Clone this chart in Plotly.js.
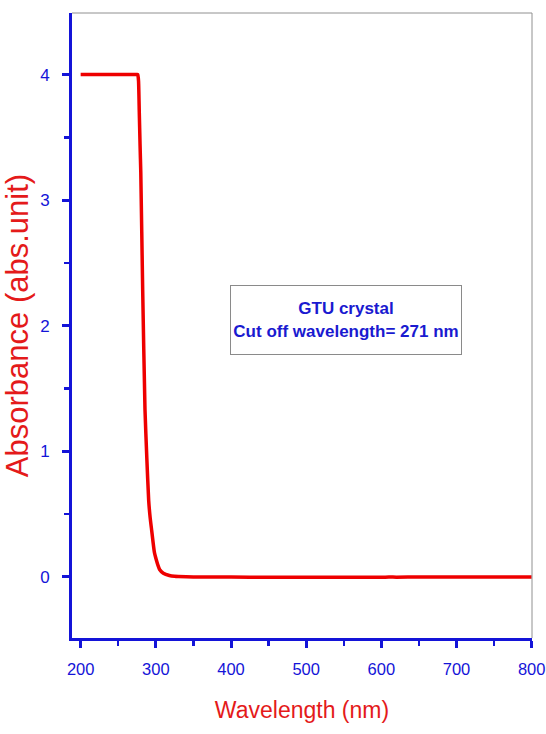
<!DOCTYPE html>
<html>
<head>
<meta charset="utf-8">
<script src="https://cdn.plot.ly/plotly-3.0.1.min.js"></script>
<style>html,body{margin:0;padding:0;background:#fff;}#chart{width:546px;height:734px;}</style>
</head>
<body>
<div id="chart"></div>
<script>
const wavelength = [200, 220, 240, 260, 270, 275, 276, 277, 278, 279, 280, 282.5, 285.6, 288, 290.5, 292.5, 294.5, 298, 300.7, 303, 305, 310, 318, 325, 330, 350, 400, 450, 500, 550, 600, 610, 620, 650, 700, 750, 800];
const absorbance = [4.0, 4.0, 4.0, 4.0, 4.0, 4.0, 4.0, 3.95, 3.7, 3.45, 3.22, 2.29, 1.33, 0.95, 0.61, 0.47, 0.37, 0.2, 0.135, 0.09, 0.06, 0.03, 0.012, 0.005, 0.003, 0.0, 0.0, -0.003, -0.003, -0.003, -0.003, 0.0, -0.002, 0.0, 0.0, 0.0, 0.0];
const xTickVals = [200, 300, 400, 500, 600, 700, 800];
const yTickVals = [0, 1, 2, 3, 4];
const noteLines = ["GTU crystal", "Cut off wavelength= 271 nm"];

const blue = "#1414d8";
const red = "#e41a1a";
const sans = "Liberation Sans, Arial, sans-serif";

const trace = {
  x: wavelength, y: absorbance, type: "scatter", mode: "lines",
  line: {color: "#ee0000", width: 3.5, shape: "spline", smoothing: 0.5},
  hoverinfo: "skip"
};

const layout = {
  width: 546, height: 734,
  margin: {l: 72, r: 14, t: 13, b: 96},
  paper_bgcolor: "#fff", plot_bgcolor: "#fff",
  showlegend: false,
  xaxis: {
    range: [188.5, 800.4], tickvals: xTickVals, ticktext: xTickVals.map(String),
    showgrid: false, zeroline: false,
    showline: true, linecolor: blue, linewidth: 3,
    ticks: "outside", ticklen: 7, tickwidth: 3, tickcolor: blue,
    minor: {tickvals: [250, 350, 450, 550, 650, 750], ticks: "outside", ticklen: 5, tickwidth: 2.5, tickcolor: blue, showgrid: false},
    tickfont: {family: sans, size: 16.5, color: blue},
    ticklabelstandoff: 7,
    ticklabeloverflow: "allow",
    title: {text: "Wavelength (nm)", font: {family: sans, size: 23, color: red}, standoff: 26}
  },
  yaxis: {
    range: [-0.486, 4.49], tickvals: yTickVals, ticktext: yTickVals.map(String),
    showgrid: false, zeroline: false,
    showline: true, linecolor: blue, linewidth: 3,
    ticks: "outside", ticklen: 7, tickwidth: 3, tickcolor: blue,
    minor: {tickvals: [-0.5, 0.5, 1.5, 2.5, 3.5], ticks: "outside", ticklen: 5, tickwidth: 2.5, tickcolor: blue, showgrid: false},
    tickfont: {family: sans, size: 17, color: blue},
    ticklabelstandoff: 9,
    title: {text: "Absorbance (abs.unit)", font: {family: sans, size: 31, color: red}, standoff: 14}
  },
  shapes: [
    {type: "line", xref: "paper", yref: "paper", x0: 0, x1: 1, y0: 1, y1: 1, line: {color: "#909090", width: 1}},
    {type: "line", xref: "paper", yref: "paper", x0: 1, x1: 1, y0: 0, y1: 1, line: {color: "#909090", width: 1}}
  ],
  annotations: [{
    xref: "paper", yref: "paper", x: 0.596, y: 0.509, xanchor: "center", yanchor: "middle",
    showarrow: false,
    text: noteLines.map(s => "<b>" + s + "</b>").join("<br>"),
    font: {family: sans, size: 17, color: "#1a1ad0"},
    align: "center", bgcolor: "#fff", bordercolor: "#8a8a8a", borderwidth: 1,
    width: 230, height: 68, borderpad: 0
  }]
};

Plotly.newPlot("chart", [trace], layout, {displayModeBar: false, staticPlot: true});
</script>
</body>
</html>
